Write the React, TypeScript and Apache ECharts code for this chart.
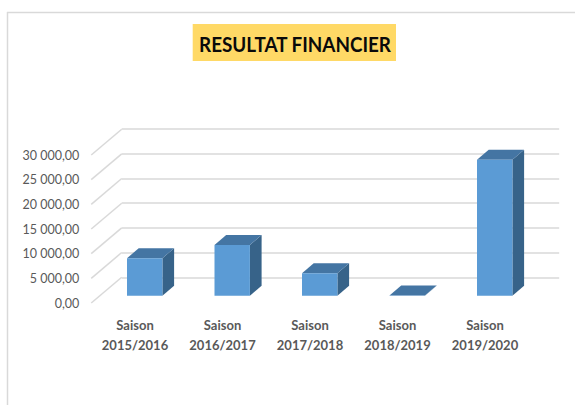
import React, { useEffect, useRef } from "react";
import * as echarts from "echarts";

const categories = ["Saison\n2015/2016", "Saison\n2016/2017", "Saison\n2017/2018", "Saison\n2018/2019", "Saison\n2019/2020"];
const resultValues = [7600, 10300, 4550, 40, 27550];
const tickValues = [0, 5000, 10000, 15000, 20000, 25000, 30000];
const tickLabels = ["0,00", "5 000,00", "10 000,00", "15 000,00", "20 000,00", "25 000,00", "30 000,00"];
const titleText = "RESULTAT FINANCIER";

const FONT = "Lato";
const LINE = "#d9d9d9";

export default function App() {
  const ref = useRef<HTMLDivElement>(null);
  useEffect(() => {
    const chart = echarts.init(ref.current!, null, { renderer: "svg" });
    chart.setOption({
      animation: false,
      backgroundColor: "#ffffff",
      graphic: [
        { type: "line", z: -1, shape: { x1: 7, y1: 12.5, x2: 575, y2: 12.5 }, style: { stroke: LINE, lineWidth: 1.5 } },
        { type: "line", z: -1, shape: { x1: 7.5, y1: 12, x2: 7.5, y2: 405 }, style: { stroke: LINE, lineWidth: 1.5 } },
        { type: "rect", z: -1, shape: { x: 192.7, y: 24, width: 203.3, height: 37 }, style: { fill: "#ffd966" } },
        {
          type: "text",
          z: 5,
          x: 295,
          y: 43.5,
          scaleX: 0.877,
          style: {
            text: titleText,
            x: 0,
            y: 0,
            align: "center",
            verticalAlign: "middle",
            font: `bold 21.5px ${FONT}`,
            fill: "#0a0a0a",
          },
        },
      ],
      grid: [
        { left: 91.25, top: 155, width: 437.5, height: 148 },
        { left: 121.7, top: 129, width: 437.5, height: 148.3 },
      ],
      xAxis: [
        {
          type: "category",
          gridIndex: 0,
          data: categories,
          axisLine: { show: false },
          axisTick: { show: false },
          axisLabel: { margin: 12, fontFamily: FONT, fontSize: 13, fontWeight: "bold", color: "#595959", lineHeight: 20, interval: 0 },
        },
        {
          type: "category",
          gridIndex: 1,
          data: categories,
          axisLine: { show: false },
          axisTick: { show: false },
          axisLabel: { show: false },
        },
      ],
      yAxis: [
        {
          type: "value",
          gridIndex: 0,
          min: 0,
          max: 30000,
          interval: 5000,
          axisLine: { show: false },
          axisTick: { show: false },
          splitLine: { show: false },
          axisLabel: {
            margin: 12,
            fontFamily: FONT,
            fontSize: 12.5,
            color: "#595959",
            formatter: (v: number) => tickLabels[tickValues.indexOf(v)],
          },
        },
        {
          type: "value",
          gridIndex: 1,
          min: 0,
          max: 30000,
          interval: 5000,
          axisLine: { show: false },
          axisTick: { show: false },
          axisLabel: { show: false },
          splitLine: { lineStyle: { color: LINE, width: 1.5 } },
        },
      ],
      series: [
        {
          type: "custom",
          name: "Parois",
          xAxisIndex: 0,
          yAxisIndex: 0,
          silent: true,
          z: 1,
          data: tickValues.map((v) => [0, v]),
          encode: { x: 0, y: 1 },
          renderItem: (_p: any, api: any) => {
            const c = api.coord([0, api.value(1)]);
            const x = c[0] - api.size([1, 0])[0] / 2;
            return {
              type: "line",
              shape: { x1: x, y1: c[1], x2: x + 30.45, y2: c[1] - 25.8 },
              style: { stroke: LINE, lineWidth: 1.5, fill: "none" },
            };
          },
        },
        {
          type: "custom",
          name: "Résultat financier",
          xAxisIndex: 0,
          yAxisIndex: 0,
          z: 3,
          data: resultValues.map((v, i) => [i, v]),
          encode: { x: 0, y: 1 },
          renderItem: (_p: any, api: any) => {
            const idx = api.value(0);
            const top = api.coord([idx, api.value(1)]);
            const base = api.coord([idx, 0]);
            const shiftX = 9.7;
            const shiftY = -7.3;
            const halfW = 17.7;
            const dx = 11.7;
            const dy = -10;
            const l = top[0] + shiftX - halfW;
            const r = top[0] + shiftX + halfW;
            const t = top[1] + shiftY;
            const b = base[1] + shiftY;
            const poly = (points: number[][], fill: string) => ({
              type: "polygon",
              shape: { points },
              style: { fill, stroke: "none" },
            });
            return {
              type: "group",
              children: [
                poly([[r, t], [r + dx, t + dy], [r + dx, b + dy], [r, b]], "#376389"),
                poly([[l, t], [l + dx, t + dy], [r + dx, t + dy], [r, t]], "#4475a3"),
                { type: "rect", shape: { x: l, y: t, width: r - l, height: b - t }, style: { fill: "#5b9bd5" } },
              ],
            };
          },
        },
      ],
    });
    return () => chart.dispose();
  }, []);
  return <div ref={ref} style={{ position: "absolute", left: 0, top: 0, width: 575, height: 405 }} />;
}
